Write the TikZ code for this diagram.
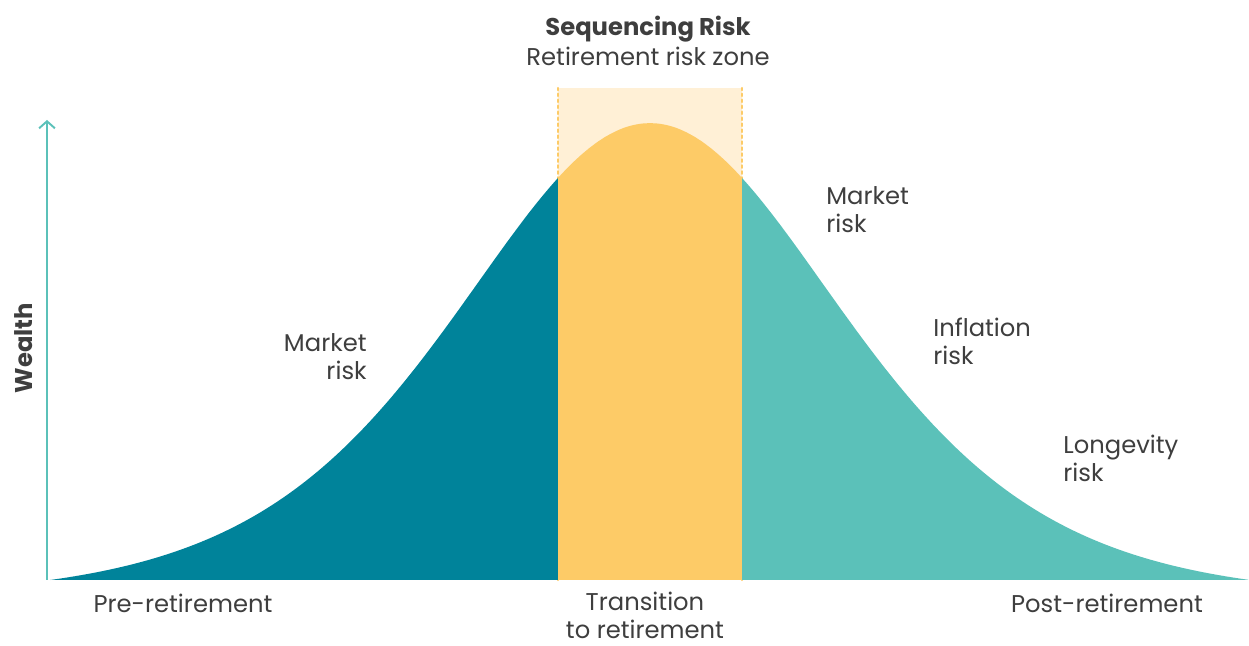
\documentclass[tikz,border=0pt]{standalone}
\usepackage{fontspec}
\setmainfont{Poppins}
\usetikzlibrary{arrows.meta}
\definecolor{deepteal}{HTML}{00839A}
\definecolor{softteal}{HTML}{5BC1B9}
\definecolor{sunyellow}{HTML}{FDCB67}
\definecolor{paleyellow}{HTML}{FFF0D6}
\definecolor{inkgrey}{HTML}{3E3E3E}
\tikzset{
  declare function={bell(\t)=66+457*(1/cosh((\t-650)/260)^2-0.0389)/0.9611;},
  lbl/.style={text=inkgrey, font=\fontsize{13.8}{16}\selectfont, inner sep=0pt},
  boldlbl/.style={lbl, font=\fontsize{13.8}{16}\selectfont\bfseries},
}

\begin{document}
\begin{tikzpicture}[x=0.02cm, y=0.02cm]
			%%%%% START %%%%%
			\useasboundingbox (0, 0) rectangle (1249, 646);
			
			\fill[paleyellow] (558, 66) rectangle (742, 558);
			\draw[sunyellow, line width=1.4pt, dotted, line cap=round] (558, 66) -- (558, 558);
			\draw[sunyellow, line width=1.4pt, dotted, line cap=round] (742, 66) -- (742, 558);
			
			\fill[deepteal] (50, 66) -- plot[domain=50:558, samples=120] (\x, {bell(\x)}) -- (558, 66) -- cycle;
			\fill[sunyellow] (558, 66) -- plot[domain=558:742, samples=60] (\x, {bell(\x)}) -- (742, 66) -- cycle;
			\fill[softteal] (742, 66) -- plot[domain=742:1248, samples=120] (\x, {bell(\x)}) -- (1248, 66) -- cycle;
			
			\draw[softteal, line width=1.1pt, -{Straight Barb[length=4pt, width=9pt]}] (47, 66) -- (47, 526);
			
			\node[boldlbl, anchor=base] (seqrisk) at (648, 610) {Sequencing Risk};
			\node[lbl, anchor=base] (zone) at (648, 580) {Retirement risk zone};
			\node[boldlbl, rotate=90, anchor=base] (wealth) at (32, 298) {Wealth};
			
			% multi-line labels sit on the baseline of their last line
			\node[lbl, align=right, anchor=base east] (mktpre) at (367, 266) {Market\\risk};
			\node[lbl, align=left, anchor=base west] (mktpost) at (826, 413) {Market\\risk};
			\node[lbl, align=left, anchor=base west] (inflation) at (933, 281) {Inflation\\risk};
			\node[lbl, align=left, anchor=base west] (longevity) at (1063, 164) {Longevity\\risk};
			
			\node[lbl, anchor=base] (pre) at (183, 33) {Pre-retirement};
			\node[lbl, align=center, anchor=base] (transition) at (645, 7) {Transition\\to retirement};
			\node[lbl, anchor=base] (post) at (1107, 33) {Post-retirement};
			%%%%% END %%%%%
\end{tikzpicture}
\end{document}
